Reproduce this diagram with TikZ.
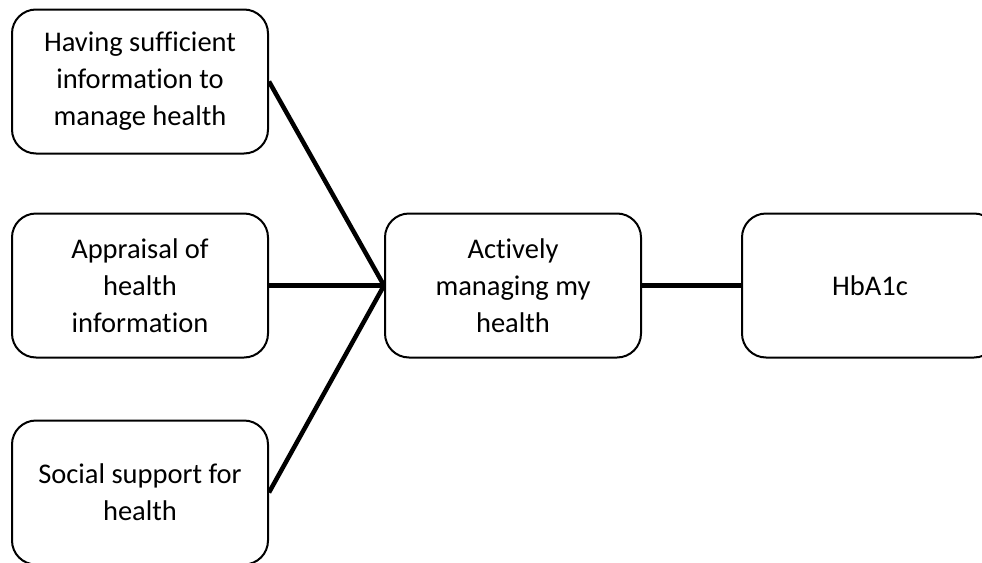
\documentclass[tikz,border=0pt]{standalone}
\usepackage{fontspec}
\setmainfont[Ligatures=NoCommon]{Carlito}
\usepackage{tikz}
\usetikzlibrary{positioning}

\begin{document}
\begin{tikzpicture}[x=1pt,y=1pt]
	\useasboundingbox (0,0) rectangle (982,-562);
	\begin{scope}[every node/.style={rectangle,draw,line width=2pt,rounded corners=24pt,minimum height=144pt,minimum width=256pt,align=center,font=\fontsize{28.5}{37}\selectfont}]
		\node (info) at (140,-81.5) {Having sufficient\\information to\\manage health};
		\node[below =58pt of info] (appraisal) {Appraisal of\\health\\information};
		\node[below =61pt of appraisal] (support) {Social support for\\health};
		\node[right =115pt of appraisal] (managing) {Actively\\managing my\\health};
		\node[right =99pt of managing] (hba) {HbA1c};
	\end{scope}

	\begin{scope}[line width=4.5pt]
	\draw (info.east) -- (managing.west);
	\draw (appraisal) -- (managing);
	\draw (support.east) -- (managing.west);
	\draw (managing) -- (hba);
	\end{scope}
\end{tikzpicture}
\end{document}
